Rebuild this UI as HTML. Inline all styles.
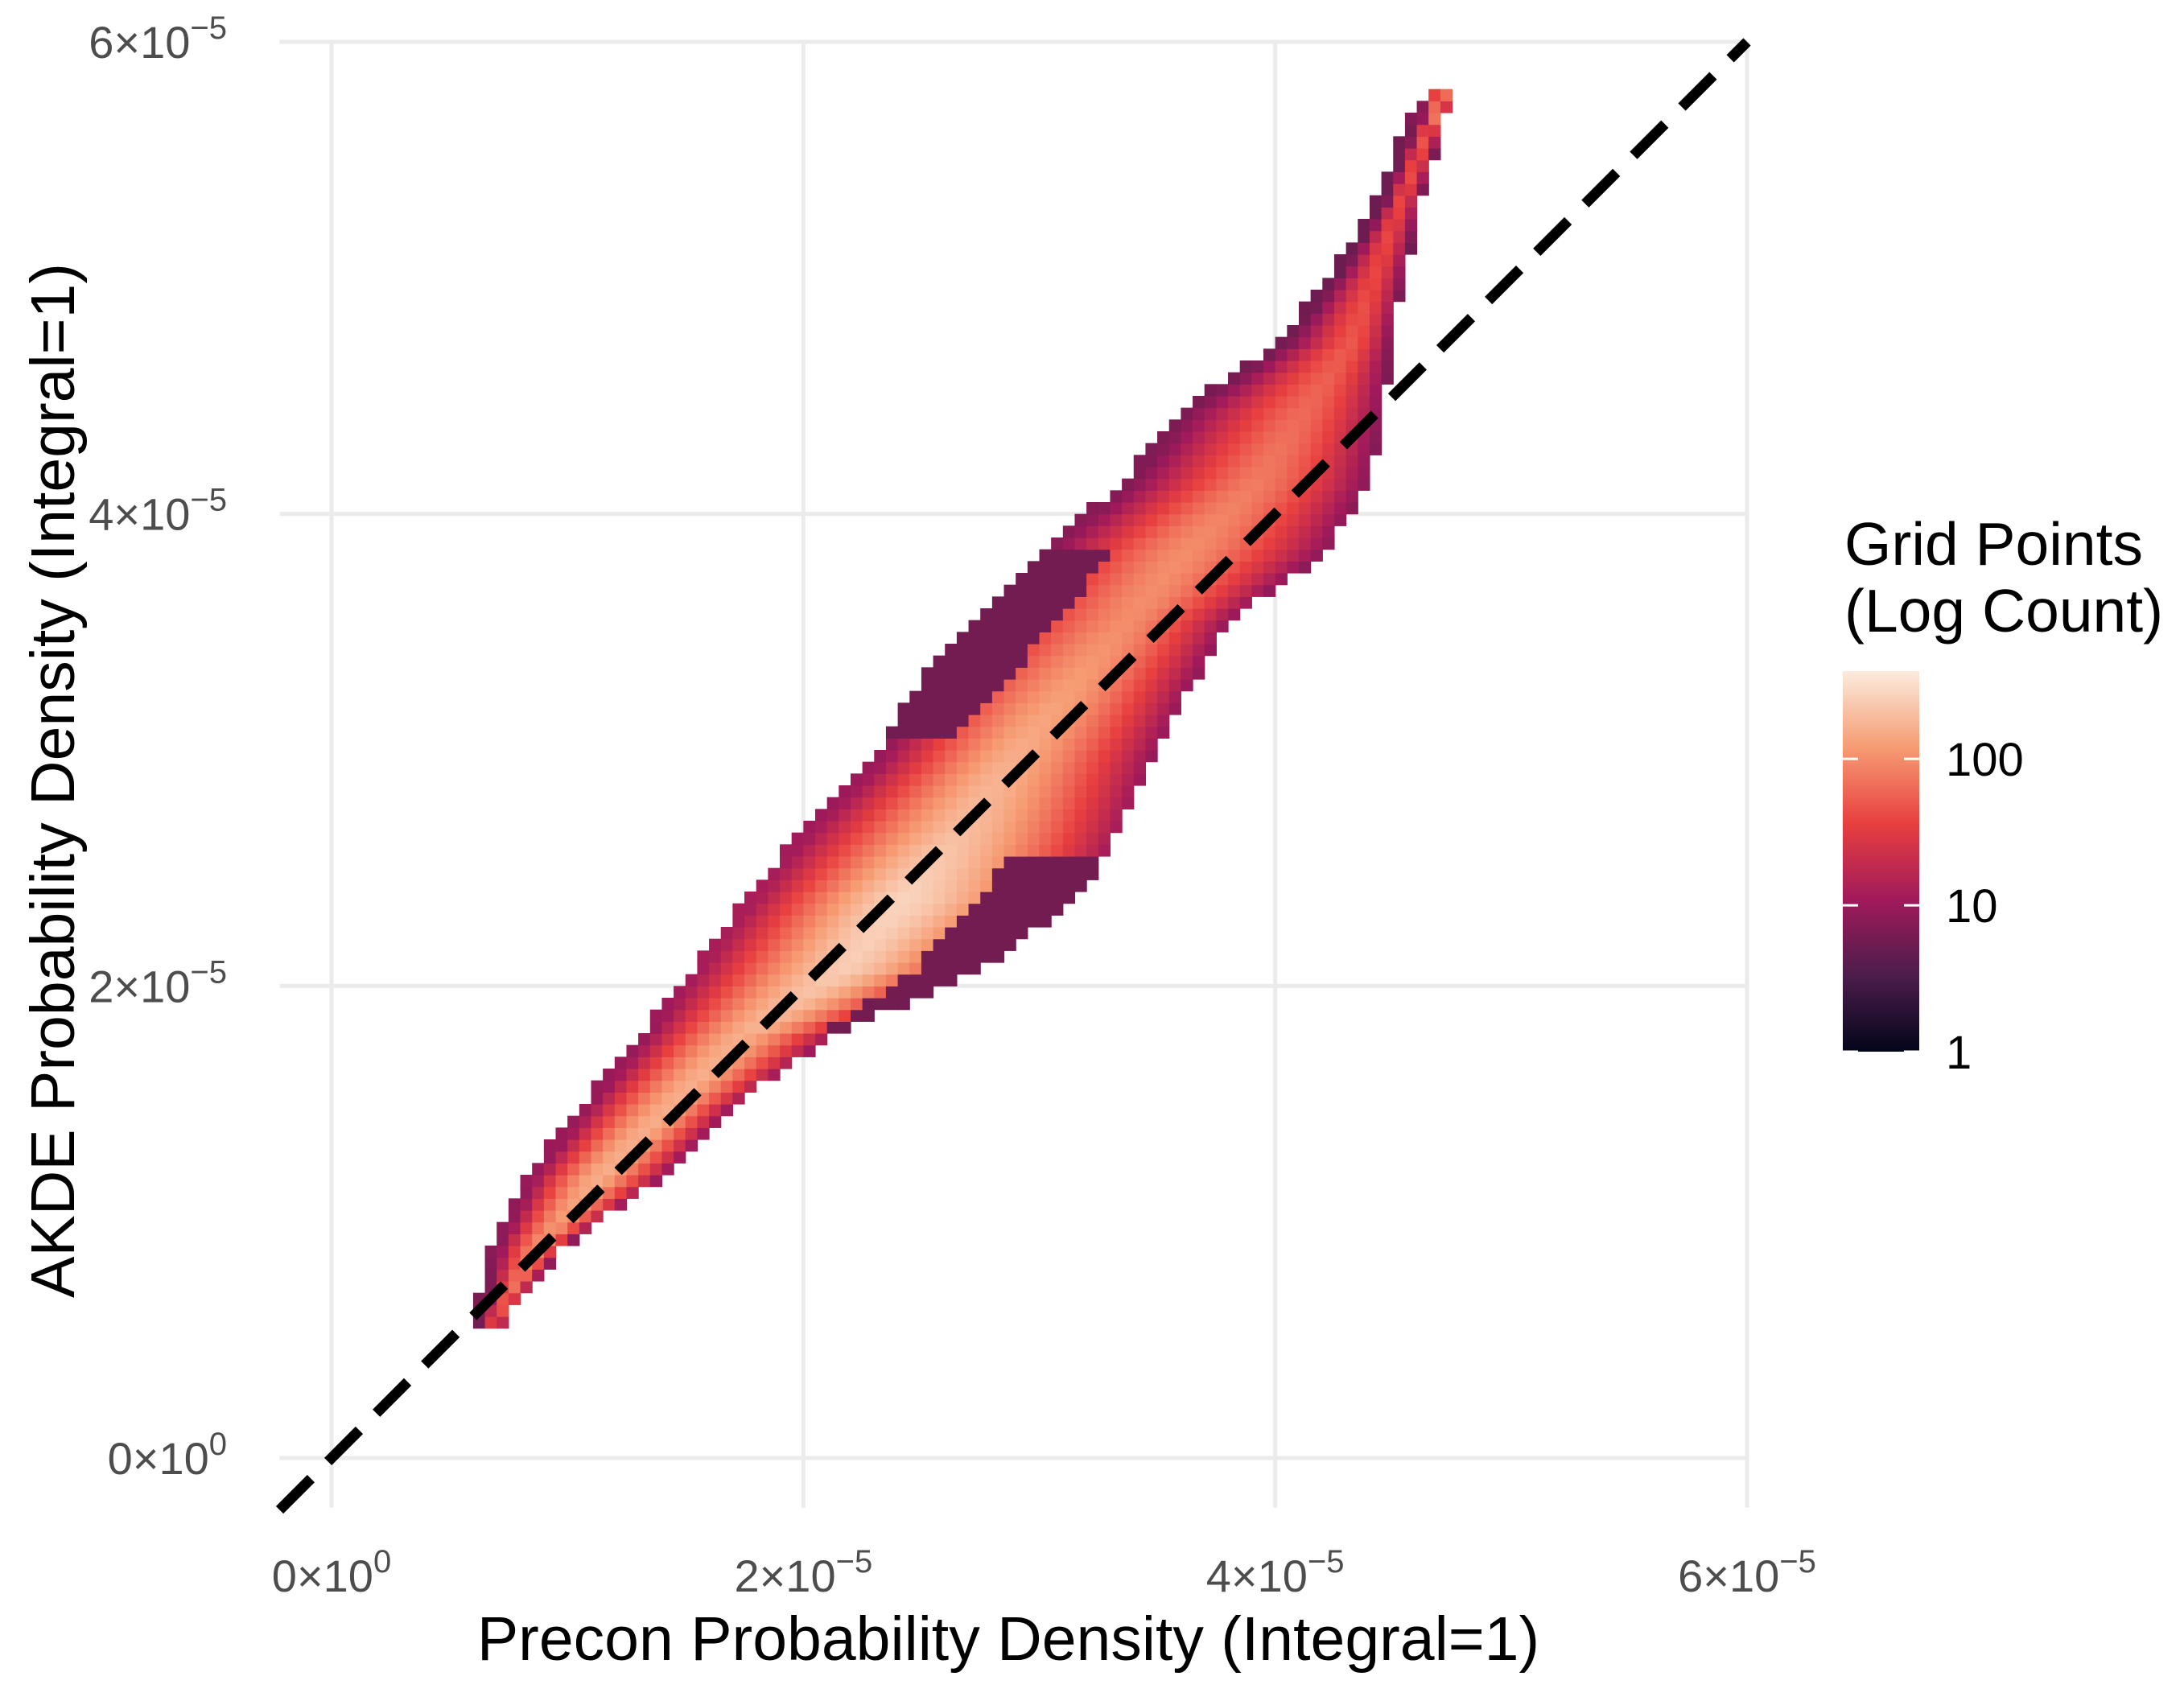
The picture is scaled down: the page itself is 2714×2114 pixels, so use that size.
<!DOCTYPE html>
<html><head><meta charset="utf-8"><style>
html,body{margin:0;padding:0;background:#fff}
svg text{font-family:"Liberation Sans",Arial,sans-serif}
</style></head><body>
<svg id="chart" width="2714" height="2109" viewBox="0 0 2714 2109" xmlns="http://www.w3.org/2000/svg">
<g id="grid"></g>
<g id="cells"></g>
<g id="diag"></g>
<g id="axes"></g>
<g id="legend"></g>
</svg>
<script>
// ---- data (units of 1e-5) ----
const rowY     = [0.57,0.87,1.16,1.46,1.75,2.05,2.34,2.64,2.93,3.23,3.52,3.82,4.11,4.41,4.70,5.00,5.29,5.59,5.73];
const rowLeft  = [0.62,0.69,0.84,1.07,1.31,1.55,1.78,2.02,2.31,2.49,2.73,3.02,3.38,3.61,4.03,4.26,4.44,4.56,4.65];
const rowRight = [0.72,0.96,1.37,1.67,2.08,2.73,3.14,3.32,3.44,3.61,3.79,4.20,4.38,4.44,4.47,4.53,4.59,4.68,4.72];
const rowRidge = [0.67,0.85,1.10,1.40,1.70,2.15,2.40,2.65,2.85,3.10,3.35,3.60,3.90,4.10,4.30,4.40,4.50,4.62,4.68];
const rowPeak  = [1.7,2.0,2.2,2.2,2.2,2.4,2.45,2.3,2.2,2.1,2.0,2.0,1.9,1.8,1.7,1.6,1.6,1.7,2.1]; // log10 count
const tickVals = [0,2,4,6];
const tickLabels = [["0×10","0"],["2×10","−5"],["4×10","−5"],["6×10","−5"]];
const legendVals = [1,10,100];
const legendLabels = ["1","10","100"];
const binW = 0.05, maxLog = 2.6;

const NS="http://www.w3.org/2000/svg";
const X0=412, X6=2171, Y0=1812, Y6=52;
const xs=v=>X0+(v/6)*(X6-X0);
const ys=v=>Y0-(v/6)*(Y0-Y6);
const PL=xs(-0.22), PR=X6, PT=Y6, PB=ys(-0.21);
function mk(tag,attrs,parent){const e=document.createElementNS(NS,tag);for(const k in attrs)e.setAttribute(k,attrs[k]);parent.appendChild(e);return e;}
const stops=[[0,[3,5,26]],[0.2,[76,29,75]],[0.4,[161,26,91]],[0.6,[232,63,63]],[0.8,[246,156,115]],[1,[250,235,221]]];
function cmap(t){t=Math.max(0,Math.min(1,t));for(let i=1;i<stops.length;i++){if(t<=stops[i][0]){const a=stops[i-1],b=stops[i];const f=(t-a[0])/(b[0]-a[0]);return `rgb(${a[1].map((c,j)=>Math.round(c+(b[1][j]-c)*f)).join(',')})`;}}return 'rgb(250,235,221)';}

// grid
const g=document.getElementById('grid');
tickVals.forEach(v=>{
  let l=mk('line',{x1:xs(v),x2:xs(v),y1:PT,y2:PB,stroke:'#ebebeb','stroke-width':5},g);
  
  l=mk('line',{x1:PL,x2:PR,y1:ys(v),y2:ys(v),stroke:'#ebebeb','stroke-width':5},g);
  
});

// cells
const cg=document.getElementById('cells');
function lerp(arr,y){if(y<=rowY[0])return arr[0];for(let i=1;i<rowY.length;i++){if(y<=rowY[i]){const f=(y-rowY[i-1])/(rowY[i]-rowY[i-1]);return arr[i-1]+(arr[i]-arr[i-1])*f;}}return arr[arr.length-1];}
const cw=xs(binW)-xs(0);
for(let y=0.55;y<=5.75;y+=binW){
  const L=lerp(rowLeft,y),R=lerp(rowRight,y),rid=lerp(rowRidge,y),pk=lerp(rowPeak,y);
  for(let x=Math.floor(L/binW)*binW;x<=R;x+=binW){
    const hw=x<rid?Math.max(rid-L,0.05):Math.max(R-rid,0.05);
    const d=Math.min(1,Math.abs(x-rid)/hw);
    let lc=pk*(1-0.55*d*Math.sqrt(d));
    if(x>rid+0.3&&y>1.8&&y<2.5)lc=Math.min(lc,0.75);
    if(x<rid-0.3&&y>3.0&&y<3.8)lc=Math.min(lc,0.75);
    const r=mk('rect',{x:xs(x),y:ys(y+binW),width:cw+0.6,height:cw+0.6,fill:cmap(lc/maxLog)},cg);
    
  }
}

// diagonal
const dg=document.getElementById('diag');
const dl=mk('line',{x1:xs(-0.22),y1:ys(-0.22),x2:xs(6),y2:ys(6),stroke:'#000','stroke-width':13,'stroke-dasharray':'55 30'},dg);


// axes labels
const ag=document.getElementById('axes');
tickVals.forEach((v,i)=>{
  let t=mk('text',{x:xs(v),y:1978,'text-anchor':'middle','font-size':56,fill:'#4d4d4d'},ag);
  
  t.textContent=tickLabels[i][0];let s=mk('tspan',{dy:-24,'font-size':40},t);s.textContent=tickLabels[i][1];
  t=mk('text',{x:282,y:ys(v)+20,'text-anchor':'end','font-size':56,fill:'#4d4d4d'},ag);
  
  t.textContent=tickLabels[i][0];s=mk('tspan',{dy:-24,'font-size':40},t);s.textContent=tickLabels[i][1];
});
let xt=mk('text',{x:1253,y:2063,'text-anchor':'middle','font-size':77,fill:'#000'},ag);

xt.textContent='Precon Probability Density (Integral=1)';
let yt=mk('text',{x:0,y:0,'text-anchor':'middle','font-size':77,fill:'#000',transform:'translate(92,970) rotate(-90)'},ag);

yt.textContent='AKDE Probability Density (Integral=1)';

// legend
const lg=document.getElementById('legend');
let lt=mk('text',{x:2292,y:702,'font-size':75,fill:'#000'},lg);

lt.textContent='Grid Points';
lt=mk('text',{x:2292,y:785,'font-size':75,fill:'#000'},lg);

lt.textContent='(Log Count)';
const defs=mk('defs',{},lg);
const grad=mk('linearGradient',{id:'cb',x1:0,y1:1,x2:0,y2:0},defs);
stops.forEach(s=>mk('stop',{offset:s[0],'stop-color':`rgb(${s[1].join(',')})`},grad));
const cbTop=834,cbBot=1307;
const cb=mk('rect',{x:2290,y:cbTop,width:95,height:cbBot-cbTop,fill:'url(#cb)'},lg);

const ly=v=>cbBot-(Math.log10(v)/maxLog)*(cbBot-cbTop);
legendVals.forEach((v,i)=>{
  let l=mk('line',{x1:2290,x2:2309,y1:ly(v),y2:ly(v),stroke:'#fff','stroke-width':3},lg);
  
  l=mk('line',{x1:2366,x2:2385,y1:ly(v),y2:ly(v),stroke:'#fff','stroke-width':3},lg);
  
  const t=mk('text',{x:2418,y:ly(v)+21,'font-size':58,fill:'#000'},lg);
  
  t.textContent=legendLabels[i];
});
</script>
</body></html>
